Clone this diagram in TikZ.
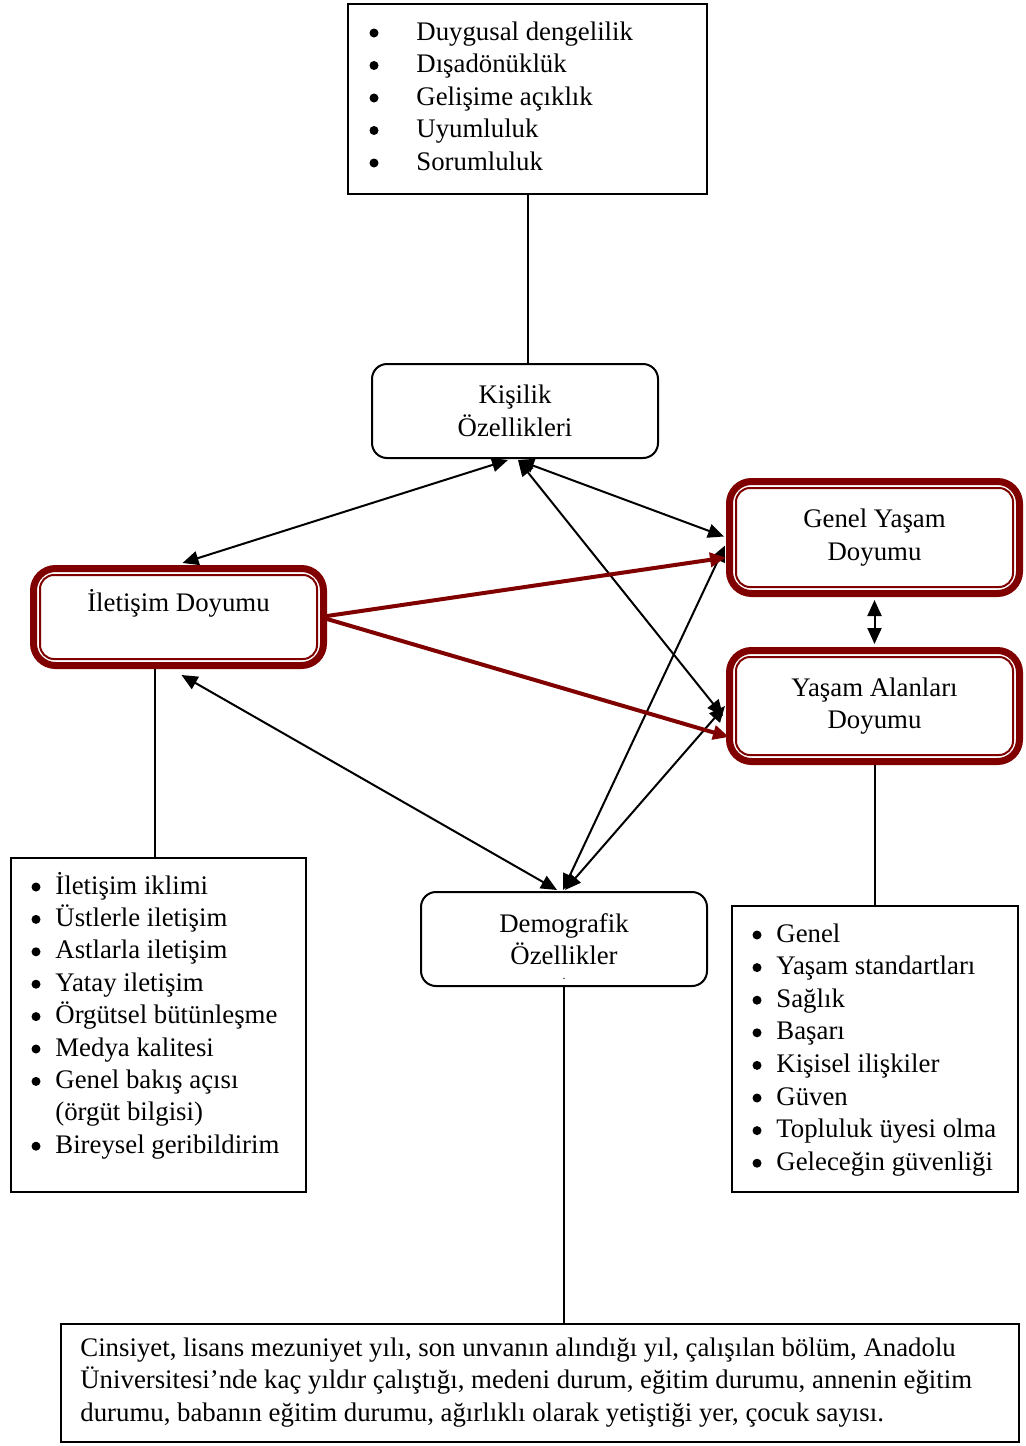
\documentclass[tikz,border=0pt]{standalone}
\usepackage{fontspec}
\setmainfont{Liberation Serif}
\usetikzlibrary{calc}
\usetikzlibrary{arrows.meta}
\definecolor{doyumred}{RGB}{128,0,0}
\tikzset{
    kutu/.style={draw, line width=1pt, rounded corners=7.5pt, align=center,
        inner sep=0pt, minimum width=143pt, minimum height=47pt},
    liste/.style={draw, line width=1pt, inner sep=0pt},
    % kalin kirmizi cerceveli kutular
    doyum/.style={draw=doyumred, line width=3.5pt, rounded corners=11pt,
        align=center, inner sep=0pt, minimum width=145pt},
    icerik/.style={doyumred, line width=1pt, rounded corners=7pt},
    madde/.style={anchor=base west, inner sep=0pt},
    nokta/.style={circle, fill=black, inner sep=0pt, minimum size=4.5pt},
    ikiok/.style={
        line width=1pt,
        black,
        {Triangle[length=8pt, width=7pt]}-{Triangle[length=8pt, width=7pt]}
    },
    kirmiziok/.style={
        line width=2pt,
        doyumred,
        -{Triangle[length=8pt, width=7pt]}
    },
    cizgi/.style={line width=1pt}
}
\begin{document}
\begin{tikzpicture}[x=0.5pt, y=-0.5pt, font=\fontsize{13.4}{16.25}\selectfont]
    \useasboundingbox (0,0) rectangle (1025,1446);

    % kutular
    \node[liste, minimum width=179.5pt, minimum height=95pt] (topbox) at (527.5,99) {};
    \node[kutu] (kisilik) at (515,411) {Kişilik\\Özellikleri};
    \node[doyum, minimum height=48.5pt] (iletisim) at (178.5,617) {İletişim Doyumu\\\mbox{}};
    \node[doyum, minimum height=56pt] (genel) at (874.5,537.5) {Genel Yaşam\\Doyumu};
    \node[doyum, minimum height=55.5pt] (yasam) at (874.5,706) {Yaşam Alanları\\Doyumu};
    \node[kutu] (demografik) at (564,939) {Demografik\\Özellikler};
    \node[anchor=base, inner sep=0pt, font=\fontsize{6}{6}\selectfont] (demodot) at (564,979) {.};
    \node[liste, minimum width=147.5pt, minimum height=167pt] (leftbox) at (158.5,1025) {};
    \node[liste, minimum width=143pt, minimum height=143pt] (rightbox) at (875,1049) {};
    \node[liste, minimum width=479pt, minimum height=59pt] (bottombox) at (540,1383) {};

    \foreach \n in {iletisim, genel, yasam}
        \draw[icerik] ($(\n.north west)+(10,10)$) rectangle ($(\n.south east)+(-10,-10)$);

    % maddeler
    \foreach \t [count=\i from 0] in {Duygusal dengelilik, Dışadönüklük, Gelişime açıklık, Uyumluluk, Sorumluluk} {
        \node[madde] (kisi\i) at (416,40+32.5*\i) {\t};
        \node[nokta] (kisib\i) at (374,33+32.5*\i) {};
    }
    \foreach \t [count=\i from 0] in {İletişim iklimi, Üstlerle iletişim, Astlarla iletişim, Yatay iletişim, Örgütsel bütünleşme, Medya kalitesi, Genel bakış açısı, (örgüt bilgisi), Bireysel geribildirim}
        \node[madde] (ilt\i) at (55,894+32.4*\i) {\t};
    \foreach \i in {0,...,6,8}
        \node[nokta] (iltb\i) at (36,887+32.4*\i) {};
    \foreach \t [count=\i from 0] in {Genel, Yaşam standartları, Sağlık, Başarı, Kişisel ilişkiler, Güven, Topluluk üyesi olma, Geleceğin güvenliği} {
        \node[madde] (yas\i) at (776,942+32.6*\i) {\t};
        \node[nokta] (yasb\i) at (757,935+32.6*\i) {};
    }
    \node[madde, align=left] (demotext) at (80,1421) {Cinsiyet, lisans mezuniyet yılı, son unvanın alındığı yıl, çalışılan bölüm, Anadolu\\
        Üniversitesi’nde kaç yıldır çalıştığı, medeni durum, eğitim durumu, annenin eğitim\\
        durumu, babanın eğitim durumu, ağırlıklı olarak yetiştiği yer, çocuk sayısı.};

    % cizgiler
    \coordinate (solx) at (155,0);
    \draw[cizgi] (topbox.south) -- (topbox.south |- kisilik.north);
    \draw[cizgi] (iletisim.south -| solx) -- (leftbox.north -| solx);
    \draw[cizgi] (yasam.south) -- (yasam.south |- rightbox.north);
    \draw[cizgi] (demografik.south) -- (demografik.south |- bottombox.north);

    % oklar
    \draw[ikiok] ($(kisilik.south)+(-7,1)$) -- ($(iletisim.north)+(4,-2)$);
    \draw[ikiok] ($(kisilik.south)+(3,1)$) -- ($(genel.west)+(-2,-1)$);
    \draw[ikiok] ($(kisilik.south)+(3,1)$) -- ($(yasam.west)+(-3,10)$);
    \draw[ikiok] ($(iletisim.south)+(3,6)$) -- ($(demografik.north)+(-7,-1)$);
    \draw[ikiok] ($(demografik.north)+(-1,-1)$) -- ($(genel.west)+(-1,8)$);
    \draw[ikiok] ($(demografik.north)+(1,-1)$) -- ($(yasam.west)+(-1,0)$);
    \draw[ikiok] ($(genel.south)+(0,3)$) -- ($(yasam.north)+(0,-3)$);
    \draw[kirmiziok] ($(iletisim.east)+(0,-1)$) -- ($(genel.west)+(0,20)$);
    \draw[kirmiziok] ($(iletisim.east)+(0,2)$) -- ($(yasam.west)+(3,31)$);
\end{tikzpicture}
\end{document}
